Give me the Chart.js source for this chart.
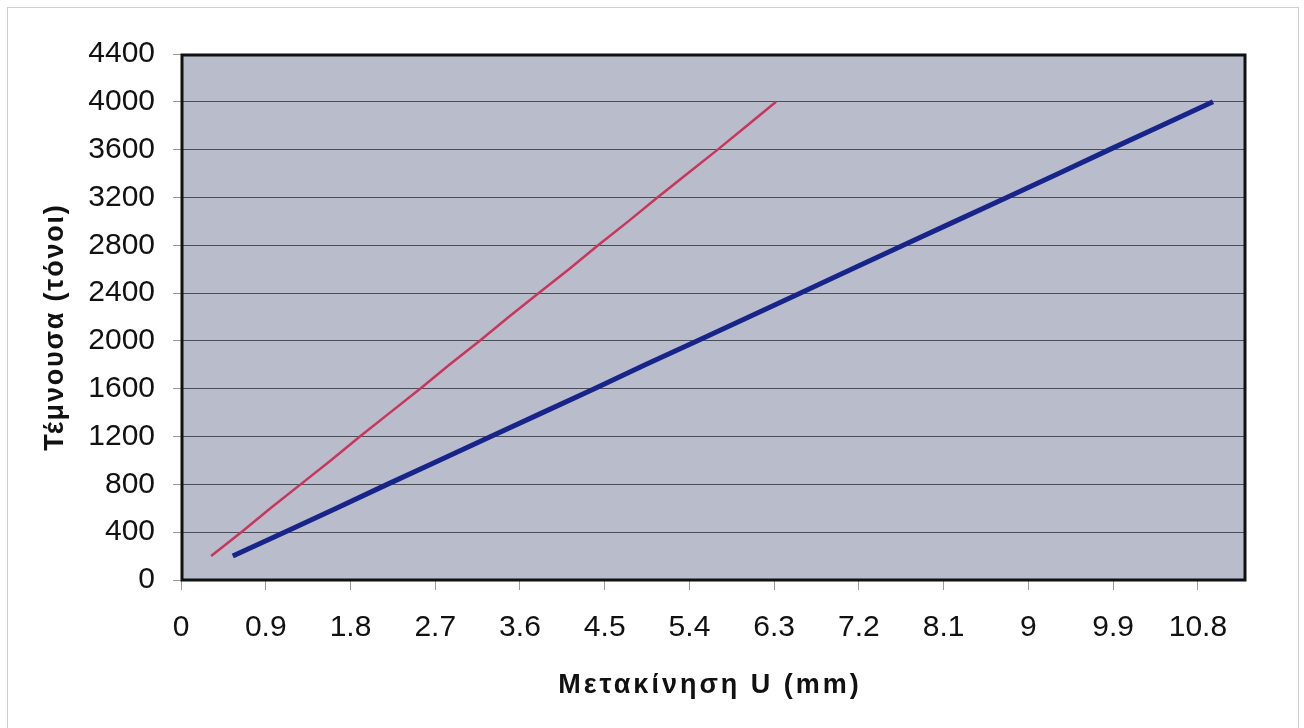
<!DOCTYPE html>
<html>
<head>
<meta charset="utf-8">
<script src="https://cdn.jsdelivr.net/npm/chart.js@4/dist/chart.umd.min.js"></script>
<style>
  html, body { margin: 0; padding: 0; background: #ffffff; }
  #wrap { position: relative; width: 1304px; height: 728px; }
  #frame { position: absolute; left: 7px; top: 7px; width: 1292px; height: 740px;
           border: 1px solid #cfcfcf; box-sizing: border-box; pointer-events: none; }
  canvas { position: absolute; left: 0; top: 0; }
</style>
</head>
<body>
<div id="wrap">
  <canvas id="c" width="1304" height="728"></canvas>
  <div id="frame"></div>
</div>
<script>
// Shear force (tons) against displacement U (mm) for the two cases
const shearTons = [200, 400, 600, 800, 1000, 1200, 1400, 1600, 1800, 2000,
                   2200, 2400, 2600, 2800, 3000, 3200, 3400, 3600, 3800, 4000];
const dispRed  = [0.32, 0.64, 0.95, 1.27, 1.59, 1.90, 2.22, 2.54, 2.85, 3.17,
                  3.48, 3.80, 4.12, 4.43, 4.75, 5.06, 5.38, 5.70, 6.01, 6.32];
const dispBlue = [0.55, 1.10, 1.65, 2.19, 2.74, 3.29, 3.84, 4.39, 4.93, 5.48,
                  6.03, 6.58, 7.12, 7.67, 8.22, 8.77, 9.32, 9.86, 10.41, 10.96];

// Axis tick values and titles
const xTicks = [0, 0.9, 1.8, 2.7, 3.6, 4.5, 5.4, 6.3, 7.2, 8.1, 9, 9.9, 10.8];
const xTickLabels = ['0', '0.9', '1.8', '2.7', '3.6', '4.5', '5.4', '6.3', '7.2', '8.1', '9', '9.9', '10.8'];
const yTicks = [0, 400, 800, 1200, 1600, 2000, 2400, 2800, 3200, 3600, 4000, 4400];
const xTitle = 'Μετακίνηση U (mm)';
const yTitle = 'Τέμνουσα (τόνοι)';

const FONT = '"Liberation Sans", Arial, Helvetica, sans-serif';

const toPoints = (xs, ys) => xs.map((x, i) => ({ x: x, y: ys[i] }));

// Grey plot background, black frame around the plotting area, spaced axis titles
const plotFrame = {
  id: 'plotFrame',
  beforeDraw(chart) {
    const { ctx, chartArea: a } = chart;
    ctx.save();
    ctx.fillStyle = '#b9bccb';
    ctx.fillRect(a.left, a.top, a.right - a.left, a.bottom - a.top);
    ctx.restore();
  },
  afterDraw(chart) {
    const { ctx, chartArea: a } = chart;
    ctx.save();
    ctx.strokeStyle = '#111111';
    ctx.lineWidth = 3;
    ctx.strokeRect(a.left + 1, a.top + 1, a.right - a.left - 1, a.bottom - a.top - 1);

    ctx.fillStyle = '#111111';
    ctx.font = 'bold 27px ' + FONT;
    ctx.textAlign = 'center';
    ctx.textBaseline = 'alphabetic';

    ctx.letterSpacing = '3px';
    ctx.fillText(xTitle, (a.left + a.right) / 2 - 3, a.bottom + 113);

    ctx.letterSpacing = '1.8px';
    ctx.translate(63, (a.top + a.bottom) / 2 + 10);
    ctx.rotate(-Math.PI / 2);
    ctx.fillText(yTitle, 0, 0);
    ctx.restore();
  }
};

new Chart(document.getElementById('c'), {
  type: 'scatter',
  data: {
    datasets: [
      {
        data: toPoints(dispRed, shearTons),
        showLine: true,
        borderColor: '#c9365c',
        borderWidth: 2.5,
        pointRadius: 0,
        pointHoverRadius: 0,
        tension: 0
      },
      {
        data: toPoints(dispBlue, shearTons),
        showLine: true,
        borderColor: '#17258a',
        borderWidth: 5,
        pointRadius: 0,
        pointHoverRadius: 0,
        tension: 0
      }
    ]
  },
  options: {
    responsive: false,
    animation: false,
    events: [],
    layout: { padding: { left: 0, top: 54, right: 59, bottom: 0 } },
    plugins: { legend: { display: false }, tooltip: { enabled: false } },
    scales: {
      x: {
        type: 'linear',
        min: 0,
        max: 11.3,
        afterBuildTicks(scale) { scale.ticks = xTicks.map(v => ({ value: v })); },
        afterFit(scale) { scale.height = 148; },
        border: { display: false },
        grid: { drawOnChartArea: false, drawTicks: true, tickLength: 10, tickColor: '#9a9a9a', lineWidth: 1 },
        ticks: {
          padding: 20,
          maxRotation: 0,
          autoSkip: false,
          color: '#111111',
          font: { family: FONT, size: 30 },
          callback(value) {
            const i = xTicks.indexOf(value);
            return i >= 0 ? xTickLabels[i] : '';
          }
        },
        title: { display: false }
      },
      y: {
        type: 'linear',
        min: 0,
        max: 4400,
        afterBuildTicks(scale) { scale.ticks = yTicks.map(v => ({ value: v })); },
        afterFit(scale) { scale.width = 181; },
        border: { display: false },
        grid: { color: '#4d4d55', lineWidth: 1, drawTicks: true, tickLength: 8, tickColor: '#9a9a9a' },
        ticks: {
          padding: 18,
          color: '#111111',
          font: { family: FONT, size: 30 },
          callback(value) { return String(value); }
        },
        title: { display: false }
      }
    }
  },
  plugins: [plotFrame]
});
</script>
</body>
</html>
